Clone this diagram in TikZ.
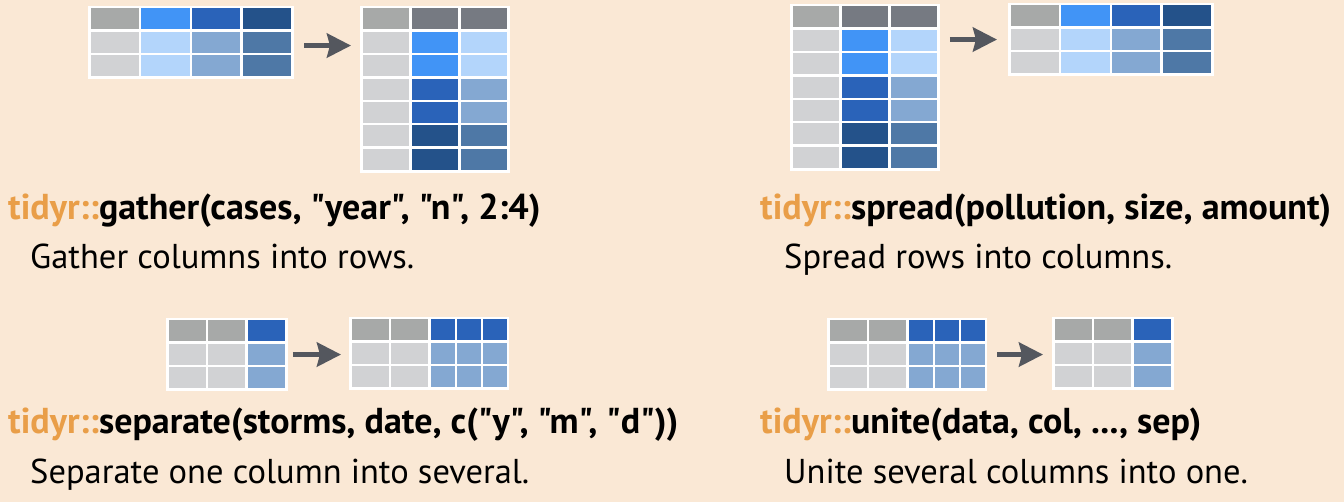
\documentclass[tikz,border=0pt]{standalone}
\usepackage{fontspec}
\setmainfont{PT Sans}[Ligatures=TeXOff]
\usetikzlibrary{arrows.meta, positioning}

\definecolor{bgc}{RGB}{250,232,213}
\definecolor{tidy}{RGB}{233,158,72}
\definecolor{arrgray}{RGB}{84,87,94}
\definecolor{hdr}{RGB}{167,169,168}
\definecolor{lgry}{RGB}{209,210,212}
\definecolor{dgry}{RGB}{118,122,130}
\definecolor{bblue}{RGB}{65,148,246}
\definecolor{lblue}{RGB}{179,213,251}
\definecolor{mblue}{RGB}{42,99,185}
\definecolor{mlblue}{RGB}{132,168,210}
\definecolor{dblue}{RGB}{36,82,138}
\definecolor{muted}{RGB}{78,120,166}

% cells of one table: #1 frame node, #2 list of x/width/colours
\newcommand{\cells}[2]{%
  \foreach \cx/\cw/\clrs in {#2} {
    \foreach \clr [count=\r from 0] in \clrs
      \fill[fill=\clr, shift={(#1.north west)}] (\cx+2.5, 2.5+\r*23.4) rectangle ++(\cw, 21);
  }}

\begin{document}
\begin{tikzpicture}[
    x=1pt, y=-1pt,
    frame/.style={
      fill=white,
      inner sep=0pt,
      anchor=north west
    },
    arr/.style={
      draw=arrgray,
      line width=5pt,
      -{Stealth[length=24pt, width=24pt, inset=3pt]}
    },
    fun/.style={
      font=\fontsize{36}{42}\selectfont\bfseries,
      anchor=base west,
      inner sep=0pt
    },
    txt/.style={
      font=\fontsize{34.5}{40}\selectfont,
      anchor=base west,
      inner sep=0pt
    }
]
  \useasboundingbox (0,0) rectangle (1344,502);
  \fill[bgc] (0,0) rectangle (1344,502);

  % gather
  \node[frame, minimum width=205.7pt, minimum height=72.7pt] (gthIn) at (88,6) {};
  \node[frame, minimum width=149.5pt, minimum height=166.5pt] (gthOut) at (360,6) {};
  \cells{gthIn}{0/48.3/{hdr,lgry,lgry}, 50.8/48.3/{bblue,lblue,lblue},
    101.6/48.3/{mblue,mlblue,mlblue}, 152.4/48.3/{dblue,muted,muted}}
  \cells{gthOut}{0/46.5/{hdr,lgry,lgry,lgry,lgry,lgry,lgry},
    49/46.5/{dgry,bblue,bblue,mblue,mblue,dblue,dblue},
    98/46.5/{dgry,lblue,lblue,mlblue,mlblue,muted,muted}}
  \coordinate (gthA) at ([yshift=-3pt]gthIn.east);
  \draw[arr, shorten <=10pt, shorten >=9pt] (gthA) -- (gthA -| gthOut.west);

  \node[fun] (gthFun) at (8,220) {\textcolor{tidy}{tidyr::}gather(cases, "year", "n", 2:4)};
  \node[txt] (gthTxt) at (30,269) {Gather columns into rows.};

  % spread
  \node[frame, minimum width=149.5pt, minimum height=166.5pt] (sprIn) at (790,4) {};
  \node[frame, minimum width=205.7pt, minimum height=72.7pt] (sprOut) at (1008,3) {};
  \cells{sprIn}{0/46.5/{hdr,lgry,lgry,lgry,lgry,lgry,lgry},
    49/46.5/{dgry,bblue,bblue,mblue,mblue,dblue,dblue},
    98/46.5/{dgry,lblue,lblue,mlblue,mlblue,muted,muted}}
  \cells{sprOut}{0/48.3/{hdr,lgry,lgry}, 50.8/48.3/{bblue,lblue,lblue},
    101.6/48.3/{mblue,mlblue,mlblue}, 152.4/48.3/{dblue,muted,muted}}
  \draw[arr, shorten <=10pt, shorten >=11pt] (sprIn.east |- sprOut.west) -- (sprOut.west);

  \node[fun] (sprFun) at (760,220) {\textcolor{tidy}{tidyr::}spread(pollution, size, amount)};
  \node[txt] (sprTxt) at (784,269) {Spread rows into columns.};

  % separate
  \node[frame, minimum width=121.5pt, minimum height=72.7pt] (sepIn) at (166,318) {};
  \node[frame, minimum width=160pt, minimum height=72.7pt] (sepOut) at (349,317) {};
  \cells{sepIn}{0/37/{hdr,lgry,lgry}, 39.5/37/{hdr,lgry,lgry}, 79/37/{mblue,mlblue,mlblue}}
  \cells{sepOut}{0/37/{hdr,lgry,lgry}, 39.5/37/{hdr,lgry,lgry}, 79/24/{mblue,mlblue,mlblue},
    105/24/{mblue,mlblue,mlblue}, 131/24/{mblue,mlblue,mlblue}}
  \draw[arr, shorten <=5pt, shorten >=8pt] (sepIn.east) -- (sepIn.east -| sepOut.west);

  \node[fun] (sepFun) at (8,433) {\textcolor{tidy}{tidyr::}separate(storms, date, c("y", "m", "d"))};
  \node[txt] (sepTxt) at (30,483) {Separate one column into several.};

  % unite
  \node[frame, minimum width=160pt, minimum height=72.7pt] (uniIn) at (827,318) {};
  \node[frame, minimum width=121.5pt, minimum height=72.7pt] (uniOut) at (1052,317) {};
  \cells{uniIn}{0/37/{hdr,lgry,lgry}, 39.5/37/{hdr,lgry,lgry}, 79/24/{mblue,mlblue,mlblue},
    105/24/{mblue,mlblue,mlblue}, 131/24/{mblue,mlblue,mlblue}}
  \cells{uniOut}{0/37/{hdr,lgry,lgry}, 39.5/37/{hdr,lgry,lgry}, 79/37/{mblue,mlblue,mlblue}}
  \draw[arr, shorten <=10pt, shorten >=9pt] (uniIn.east) -- (uniIn.east -| uniOut.west);

  \node[fun] (uniFun) at (760,433) {\textcolor{tidy}{tidyr::}unite(data, col, ..., sep)};
  \node[txt] (uniTxt) at (784,483) {Unite several columns into one.};
\end{tikzpicture}
\end{document}
